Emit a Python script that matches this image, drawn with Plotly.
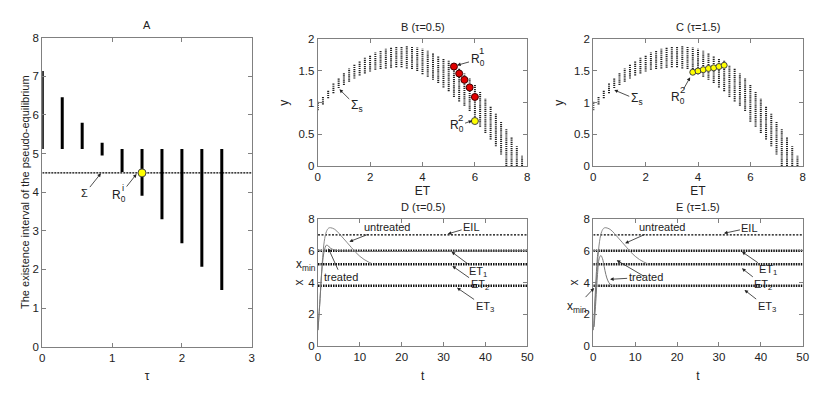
import plotly.graph_objects as go

# ---------------- data ----------------
# Panel A
tau_vals = [0.0, 0.2857, 0.5714, 0.8571, 1.1429, 1.4286, 1.7143, 2.0, 2.2857, 2.5714]
interval_low = [5.12, 5.12, 5.12, 4.95, 4.52, 3.91, 3.30, 2.68, 2.07, 1.47]
interval_high = [7.14, 6.46, 5.80, 5.28, 5.12, 5.12, 5.12, 5.12, 5.12, 5.12]
sigma_level = 4.5
A_point_tau = [1.4286]
A_point_y = [4.5]

# Panels B, C : sliding-domain band
band_et = [0.0, 0.2, 0.4, 0.6, 0.8, 1.0, 1.2, 1.4, 1.6, 1.8,
           2.0, 2.2, 2.4, 2.6, 2.8, 3.0, 3.2, 3.4, 3.6, 3.8,
           4.0, 4.2, 4.4, 4.6, 4.8, 5.0, 5.2, 5.4, 5.6, 5.8,
           6.0, 6.2, 6.4, 6.6, 6.8, 7.0, 7.2, 7.4, 7.6, 7.8]
band_high = [1.02, 1.09, 1.20, 1.31, 1.39, 1.48, 1.54, 1.61, 1.66, 1.71,
             1.75, 1.79, 1.82, 1.85, 1.87, 1.88, 1.89, 1.89, 1.88, 1.87,
             1.85, 1.82, 1.79, 1.74, 1.70, 1.66, 1.59, 1.54, 1.46, 1.38,
             1.28, 1.17, 1.06, 0.95, 0.83, 0.71, 0.58, 0.45, 0.31, 0.17]
band_low = [0.88, 0.97, 1.07, 1.15, 1.23, 1.28, 1.33, 1.38, 1.43, 1.46,
            1.49, 1.52, 1.53, 1.54, 1.55, 1.56, 1.56, 1.54, 1.53, 1.50,
            1.45, 1.41, 1.36, 1.31, 1.24, 1.18, 1.09, 1.02, 0.95, 0.87,
            0.70, 0.62, 0.52, 0.42, 0.31, 0.18, 0.0, 0.0, 0.0, 0.0]
B_red_et = [5.2, 5.4, 5.6, 5.8, 6.0]
B_red_y = [1.57, 1.46, 1.36, 1.24, 1.09]
B_yellow_et = [6.0]
B_yellow_y = [0.71]
C_yellow_et = [3.8, 4.0, 4.2, 4.4, 4.6, 4.8, 5.0]
C_yellow_y = [1.48, 1.50, 1.52, 1.54, 1.55, 1.57, 1.59]

# Panels D, E : time series
EIL, ET1, ET2, ET3 = 7.0, 6.0, 5.15, 3.8
t_end = 50
untreated_t = [0, 0.5, 1, 1.5, 2, 2.5, 3, 4, 5, 6, 7, 8, 9, 10, 11, 12, 12.8]
untreated_x = [1.0, 3.0, 5.2, 6.6, 7.2, 7.42, 7.45, 7.35, 7.1, 6.8, 6.5, 6.2, 5.9, 5.65, 5.45, 5.3, 5.2]
D_treated_t = [0, 0.5, 1, 1.5, 2, 2.5, 3, 4, 5, 50]
D_treated_x = [1.0, 3.0, 5.0, 6.0, 6.35, 6.3, 6.15, 6.05, 6.0, 6.0]
E_treated1_t = [0, 0.3, 0.6, 0.9, 1.1, 1.3, 1.45]
E_treated1_x = [1.0, 2.4, 4.0, 5.3, 5.9, 6.1, 6.0]
E_treated2_t = [0.2, 0.6, 1.0, 1.4, 1.8, 2.2, 2.6, 3.0, 3.5, 4.0, 4.5]
E_treated2_x = [1.2, 2.8, 4.5, 5.5, 5.7, 5.5, 5.0, 4.5, 4.1, 3.9, 3.8]

FONT = "Liberation Sans, Arial, sans-serif"
fig = go.Figure()

# ---------------- A ----------------
bx, by = [], []
for t, lo, hi in zip(tau_vals, interval_low, interval_high):
    bx += [t, t, None]
    by += [lo, hi, None]
fig.add_trace(go.Scatter(x=[0, 3], y=[sigma_level, sigma_level], mode="lines",
                         line=dict(color="black", width=1.2, dash="2px,1px"),
                         xaxis="x", yaxis="y", showlegend=False))
fig.add_trace(go.Scatter(x=bx, y=by, mode="lines", line=dict(color="black", width=3),
                         xaxis="x", yaxis="y", showlegend=False))
fig.add_trace(go.Scatter(x=A_point_tau, y=A_point_y, mode="markers",
                         marker=dict(color="#ffff00", size=8, line=dict(color="#444", width=1)),
                         xaxis="x", yaxis="y", showlegend=False))

# ---------------- B, C bands ----------------
def band(xa, ya):
    xs, ys = [], []
    for e, lo, hi in zip(band_et, band_low, band_high):
        xs += [e, e, None]
        ys += [lo, hi, None]
    fig.add_trace(go.Scatter(x=xs, y=ys, mode="lines",
                             line=dict(color="#222", width=2.0, dash="1.2px,0.9px"),
                             xaxis=xa, yaxis=ya, showlegend=False))

band("x2", "y2")
band("x3", "y3")
fig.add_trace(go.Scatter(x=B_red_et, y=B_red_y, mode="markers",
                         marker=dict(color="#e00000", size=7, line=dict(color="#400", width=1)),
                         xaxis="x2", yaxis="y2", showlegend=False))
fig.add_trace(go.Scatter(x=B_yellow_et, y=B_yellow_y, mode="markers",
                         marker=dict(color="#ffff00", size=7, line=dict(color="#444", width=1)),
                         xaxis="x2", yaxis="y2", showlegend=False))
fig.add_trace(go.Scatter(x=C_yellow_et, y=C_yellow_y, mode="lines+markers",
                         line=dict(color="#888800", width=1),
                         marker=dict(color="#ffff00", size=6, line=dict(color="#444", width=1)),
                         xaxis="x3", yaxis="y3", showlegend=False))

# ---------------- D, E ----------------
def levels(xa, ya):
    fig.add_trace(go.Scatter(x=[0, t_end], y=[EIL, EIL], mode="lines",
                             line=dict(color="black", width=1.2, dash="2px,1.5px"),
                             xaxis=xa, yaxis=ya, showlegend=False))
    for lv in (ET1, ET2, ET3):
        fig.add_trace(go.Scatter(x=[0, t_end], y=[lv, lv], mode="lines",
                                 line=dict(color="#111", width=2.6, dash="1.5px,1px"),
                                 xaxis=xa, yaxis=ya, showlegend=False))
    fig.add_trace(go.Scatter(x=untreated_t, y=untreated_x, mode="lines",
                             line=dict(color="#888", width=1, shape="spline"),
                             xaxis=xa, yaxis=ya, showlegend=False))

levels("x4", "y4")
fig.add_trace(go.Scatter(x=D_treated_t, y=D_treated_x, mode="lines",
                         line=dict(color="#777", width=1, shape="spline"),
                         xaxis="x4", yaxis="y4", showlegend=False))
levels("x5", "y5")
fig.add_trace(go.Scatter(x=E_treated1_t, y=E_treated1_x, mode="lines",
                         line=dict(color="#777", width=1, shape="spline"),
                         xaxis="x5", yaxis="y5", showlegend=False))
fig.add_trace(go.Scatter(x=E_treated2_t, y=E_treated2_x, mode="lines",
                         line=dict(color="#777", width=1, shape="spline"),
                         xaxis="x5", yaxis="y5", showlegend=False))

# ---------------- axes ----------------
# The page body has an 8px margin: the figure is placed at (8, 8).
OFF = 8
W, H = 830 - OFF, 396 - OFF
def dom(p0, p1):
    return [(p0 - OFF) / W, (p1 - OFF) / W]
def vdom(top, bot):
    return [1 - (bot - OFF) / H, 1 - (top - OFF) / H]

axcommon = dict(showline=True, linecolor="#808080", linewidth=1, mirror="allticks",
                ticks="inside", ticklen=4, tickcolor="#808080", showgrid=False,
                zeroline=False, automargin=False,
                tickfont=dict(family=FONT, size=11.5, color="#222"))

def setax(n, xd, yd, xr, yr, xdt, ydt, xt, yt, xstand=8, ystand=6, xts=12, yts=12):
    s = "" if n == 1 else str(n)
    fig.update_layout(**{
        "xaxis" + s: dict(axcommon, domain=xd, range=xr, dtick=xdt, tick0=0,
                          anchor="y" + s,
                          title=dict(text=xt, standoff=xstand,
                                     font=dict(family=FONT, size=xts, color="#222"))),
        "yaxis" + s: dict(axcommon, domain=yd, range=yr, dtick=ydt, tick0=0,
                          anchor="x" + s,
                          title=dict(text=yt, standoff=ystand,
                                     font=dict(family=FONT, size=yts, color="#222"))),
    })

setax(1, dom(42.3, 251.7), vdom(37.7, 346.7), [0, 3], [0, 8], 1, 1, "τ",
      "The existence interval of the pseudo-equilibrium", 9, 0, 12, 11)
setax(2, dom(317.7, 527.3), vdom(39.3, 166), [0, 8], [0, 2], 2, 0.5, "ET", "y", 4, 7)
setax(3, dom(593.3, 802.7), vdom(39.3, 166), [0, 8], [0, 2], 2, 0.5, "ET", "y", 4, 7)
setax(4, dom(318, 527.3), vdom(219, 346), [0, 50], [0, 8], 10, 2, "t", "x", 9, 2)
setax(5, dom(593.3, 802.7), vdom(219, 346), [0, 50], [0, 8], 10, 2, "t", "x", 9, 2)

# ---------------- annotations ----------------
ANN_SIZE = 11
ann = []
def ptext(xpix, ypix, text, size=ANN_SIZE):
    ann.append(dict(xref="paper", yref="paper", x=(xpix - OFF) / W, y=1 - (ypix - OFF) / H,
                    text=text, showarrow=False,
                    font=dict(family=FONT, size=size, color="#222"),
                    xanchor="center", yanchor="middle"))

ptext((42.3 + 251.7) / 2, 25.5, "A")
ptext((317.7 + 527.3) / 2, 27, "B (τ=0.5)")
ptext((593.3 + 802.7) / 2, 27, "C (τ=1.5)")
ptext((318 + 527.3) / 2, 207, "D (τ=0.5)")
ptext((593.3 + 802.7) / 2, 207, "E (τ=1.5)")
ptext(306, 265, "x<sub>min</sub>", 12)

def arrow(n, x, y, ax, ay, text, size=ANN_SIZE):
    s = "" if n == 1 else str(n)
    ann.append(dict(xref="x" + s, yref="y" + s, axref="x" + s, ayref="y" + s,
                    x=x, y=y, ax=ax, ay=ay, text=text, showarrow=True,
                    arrowhead=2, arrowsize=0.9, arrowwidth=0.8, arrowcolor="#222",
                    font=dict(family=FONT, size=size, color="#222"), standoff=0))

def R0(n, x, y, ax, ay, sup):
    arrow(n, x, y, ax, ay, "R<sub>0</sub>", 12)
    s = "" if n == 1 else str(n)
    ann.append(dict(xref="x" + s, yref="y" + s, x=ax, y=ay, text=sup, showarrow=False,
                    xshift=4, yshift=9, font=dict(family=FONT, size=9.5, color="#222")))

arrow(1, 0.84, 4.49, 0.61, 3.97, "Σ")
R0(1, 1.35, 4.47, 1.10, 3.90, "i")
R0(2, 5.32, 1.59, 6.10, 1.68, "1")
R0(2, 5.90, 0.715, 5.30, 0.63, "2")
arrow(2, 0.83, 1.21, 1.49, 0.94, "Σ<sub>s</sub>", 12)
R0(3, 3.70, 1.40, 3.25, 1.07, "2")
arrow(3, 0.80, 1.20, 1.66, 1.05, "Σ<sub>s</sub>", 12)

arrow(4, 7.5, 6.57, 16.4, 7.5, "untreated")
arrow(4, 31.0, 7.06, 36.7, 7.5, "EIL")
arrow(4, 31.9, 5.94, 38.3, 4.68, "ET<sub>1</sub>")
arrow(4, 32.1, 5.04, 38.6, 3.84, "ET<sub>2</sub>")
arrow(4, 33.2, 3.67, 39.8, 2.48, "ET<sub>3</sub>")
arrow(4, 2.47, 6.15, 5.6, 4.33, "treated")

arrow(5, 7.6, 6.47, 16.3, 7.5, "untreated")
arrow(5, 31.2, 7.1, 37.4, 7.45, "EIL")
arrow(5, 35.5, 5.94, 41.8, 4.79, "ET<sub>1</sub>")
arrow(5, 35.5, 4.89, 40.6, 3.84, "ET<sub>2</sub>")
arrow(5, 36.1, 3.53, 41.4, 2.44, "ET<sub>3</sub>")
arrow(5, 4.0, 4.2, 12.5, 4.33, "treated")
arrow(5, 5.6, 5.4, 12.5, 4.33, "")
arrow(5, 0.2, 3.65, -4.0, 2.48, "x<sub>min</sub>", 12)

fig.update_layout(annotations=ann, width=W, height=H, autosize=False,
                  margin=dict(l=0, r=0, t=0, b=0),
                  paper_bgcolor="white", plot_bgcolor="white",
                  font=dict(family=FONT, size=11, color="#222"))

fig.write_html("out.html")
